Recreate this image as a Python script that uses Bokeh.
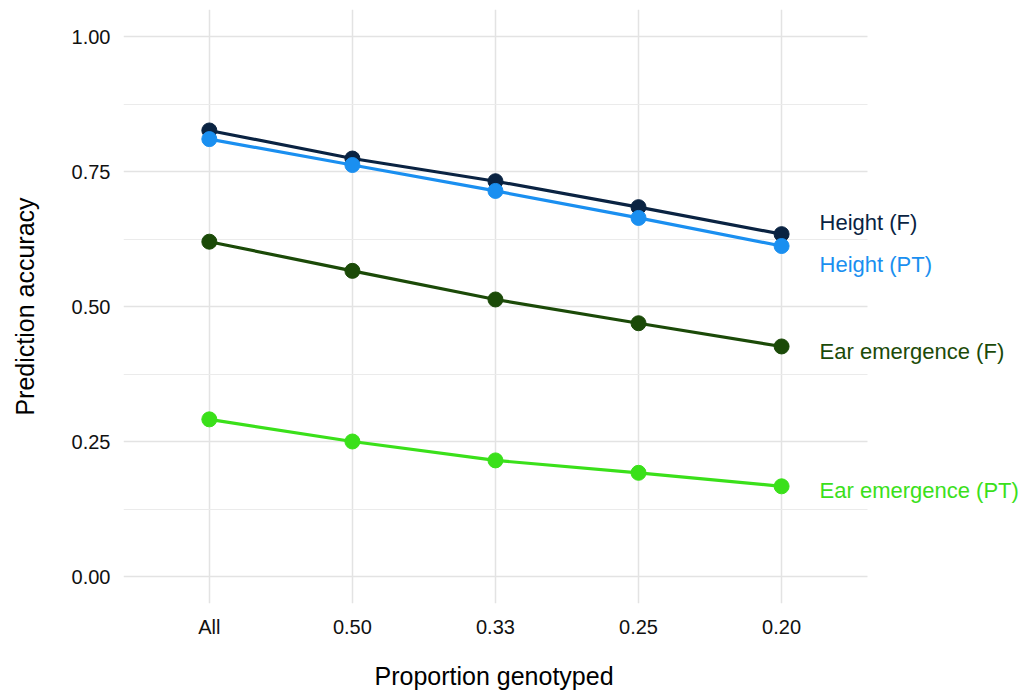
from bokeh.plotting import figure
from bokeh.models import ColumnDataSource, FixedTicker, Range1d, Title
from bokeh.core.properties import value
from bokeh.embed import file_html
from bokeh.resources import INLINE

# ---- data ----
categories = ["All", "0.50", "0.33", "0.25", "0.20"]
height_f = [0.826, 0.774, 0.732, 0.684, 0.634]
height_pt = [0.810, 0.762, 0.714, 0.664, 0.612]
ear_f = [0.620, 0.566, 0.513, 0.469, 0.426]
ear_pt = [0.291, 0.250, 0.215, 0.192, 0.167]
series_names = ["Height (F)", "Height (PT)", "Ear emergence (F)", "Ear emergence (PT)"]
label_y = [0.656, 0.578, 0.417, 0.159]
colors = ["#0a2342", "#1a8ff0", "#1b4a08", "#3ae01a"]
y_ticks = [0.0, 0.25, 0.50, 0.75, 1.00]
y_minor = [0.125, 0.375, 0.625, 0.875]

FONT = "Liberation Sans"
xs = list(range(1, len(categories) + 1))
x_lo, x_hi = 0.4, len(categories) + 0.6   # discrete-axis padding
x_view_hi = 6.67                          # room for the end labels

p = figure(width=1020, height=697, output_backend="svg", toolbar_location=None,
           x_range=Range1d(x_lo, x_view_hi), y_range=Range1d(-0.05, 1.05),
           min_border_left=123, min_border_right=0, min_border_top=9,
           min_border_bottom=94)
p.outline_line_color = None
p.background_fill_color = "white"
p.border_fill_color = "white"

# axes
p.xaxis.ticker = FixedTicker(ticks=xs)
p.xaxis.major_label_overrides = {x: c for x, c in zip(xs, categories)}
p.yaxis.ticker = FixedTicker(ticks=y_ticks, minor_ticks=y_minor)
p.yaxis.major_label_overrides = {t: f"{t:.2f}" for t in y_ticks}
for ax in (p.xaxis[0], p.yaxis[0]):
    ax.axis_line_color = None
    ax.major_tick_line_color = None
    ax.minor_tick_line_color = None
    ax.major_label_text_font = FONT
    ax.major_label_text_font_size = "20px"
    ax.major_label_text_color = "#111111"
    ax.axis_label_text_font = FONT
    ax.axis_label_text_font_size = "25px"
    ax.axis_label_text_font_style = "normal"
    ax.axis_label_text_color = "#000000"
p.yaxis.axis_label = "Prediction accuracy"
p.xaxis.major_label_standoff = 6
p.yaxis.major_label_standoff = 7
p.yaxis.axis_label_standoff = 30
# spacer between the x tick labels and the x title
p.xaxis.axis_label = " "
p.xaxis.axis_label_text_font_size = "1px"
p.xaxis.axis_label_standoff = 15

# x-axis title, centred under the data panel (not under the label margin)
xtitle = Title(text="Proportion genotyped", align="left", offset=251,
               text_font=FONT, text_font_size="25px", text_font_style="normal",
               text_color="#000000", standoff=0)
p.add_layout(xtitle, "below")

# grid (limited to the data panel)
p.xgrid.ticker = FixedTicker(ticks=xs)
p.xgrid.grid_line_color = "#e3e3e3"
p.xgrid.grid_line_width = 1.5
p.ygrid.ticker = FixedTicker(ticks=y_ticks, minor_ticks=y_minor)
p.ygrid.grid_line_color = "#e3e3e3"
p.ygrid.grid_line_width = 1.5
p.ygrid.minor_grid_line_color = "#ebebeb"
p.ygrid.minor_grid_line_width = 1.2
p.ygrid.cross_bounds = (x_lo, x_hi)

all_series = [height_f, height_pt, ear_f, ear_pt]
for vals, col in zip(all_series, colors):
    src = ColumnDataSource(dict(x=xs, y=vals))
    p.line("x", "y", source=src, line_color=col, line_width=3.2)
    p.scatter("x", "y", source=src, size=15, fill_color=col, line_color=col)

lab_src = ColumnDataSource(dict(x=[xs[-1]] * len(series_names), y=label_y,
                                text=series_names, color=colors))
p.text("x", "y", text="text", source=lab_src, text_color="color",
       x_offset=38, text_baseline="middle", text_align="left",
       text_font=value(FONT), text_font_size="22px")

open("out.html", "w").write(file_html(p, INLINE))
